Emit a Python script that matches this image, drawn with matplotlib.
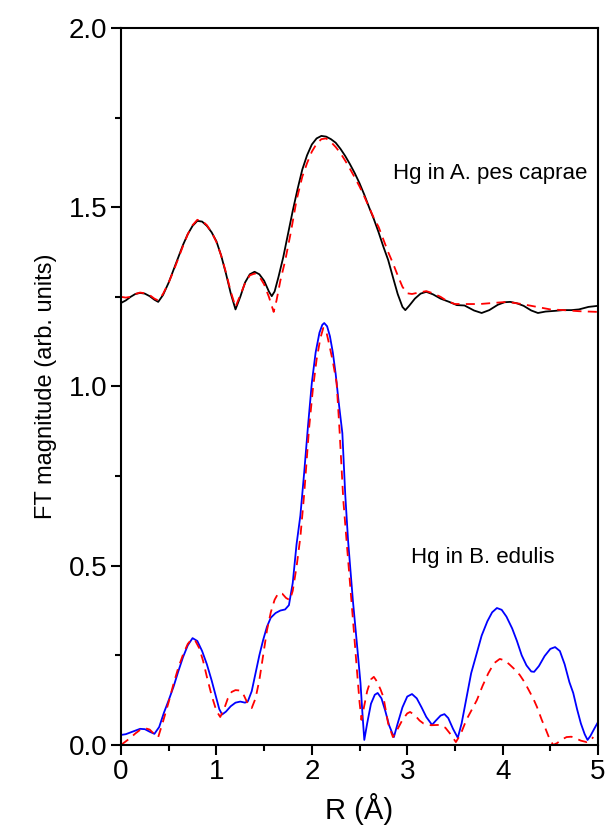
import matplotlib
matplotlib.use("Agg")
import matplotlib.pyplot as plt
from matplotlib.ticker import MultipleLocator

plt.rcParams['font.family'] = ['Liberation Sans', 'DejaVu Sans']

# A. pes caprae (experimental, black) -- offset curve
r_ap = [0, 0.05, 0.1, 0.15, 0.2, 0.25, 0.3, 0.35, 0.39, 0.44,
        0.5, 0.55, 0.6, 0.65, 0.7, 0.75, 0.8, 0.85, 0.9, 0.95,
        1.0, 1.05, 1.1, 1.15, 1.2, 1.25, 1.3, 1.35, 1.4, 1.45,
        1.5, 1.55, 1.58, 1.61, 1.65, 1.70, 1.75, 1.80, 1.85, 1.9,
        1.95, 2.0, 2.05, 2.1, 2.15, 2.2, 2.25, 2.3, 2.35, 2.4,
        2.45, 2.5, 2.55, 2.6, 2.65, 2.7, 2.75, 2.8, 2.85, 2.9,
        2.95, 2.98, 3.02, 3.08, 3.14, 3.2, 3.27, 3.35, 3.44, 3.52,
        3.6, 3.7, 3.78, 3.86, 3.95, 4.02, 4.08, 4.15, 4.22, 4.3,
        4.37, 4.45, 4.55, 4.63, 4.72, 4.8, 4.9, 5.0]
ft_ap = [1.233, 1.240, 1.25, 1.258, 1.261, 1.259, 1.252, 1.242, 1.236, 1.255,
         1.29, 1.325, 1.36, 1.395, 1.425, 1.448, 1.462, 1.46, 1.448, 1.43,
         1.405, 1.365, 1.315, 1.26, 1.215, 1.25, 1.29, 1.313, 1.32, 1.313,
         1.295, 1.265, 1.252, 1.265, 1.305, 1.36, 1.425, 1.49, 1.55, 1.605,
         1.645, 1.675, 1.692, 1.699, 1.697, 1.69, 1.68, 1.663, 1.643, 1.62,
         1.595, 1.567, 1.535, 1.5, 1.467, 1.43, 1.39, 1.353, 1.305, 1.258,
         1.222, 1.213, 1.225, 1.245, 1.259, 1.264, 1.257, 1.245, 1.236, 1.227,
         1.226, 1.212, 1.205, 1.213, 1.228, 1.235, 1.236, 1.232, 1.225, 1.212,
         1.205, 1.209, 1.211, 1.213, 1.213, 1.215, 1.222, 1.225]

# A. pes caprae fit (red dashed)
r_apf = [0, 0.05, 0.1, 0.15, 0.2, 0.25, 0.3, 0.35, 0.39, 0.44,
         0.5, 0.55, 0.6, 0.65, 0.7, 0.75, 0.8, 0.85, 0.9, 0.95,
         1.0, 1.05, 1.1, 1.15, 1.2, 1.25, 1.3, 1.35, 1.4, 1.45,
         1.5, 1.55, 1.6, 1.63, 1.67, 1.72, 1.78, 1.84, 1.9, 1.95,
         2.0, 2.05, 2.1, 2.15, 2.2, 2.25, 2.3, 2.35, 2.4, 2.45,
         2.5, 2.55, 2.6, 2.65, 2.7, 2.75, 2.8, 2.85, 2.9, 2.95,
         3.0, 3.05, 3.12, 3.2, 3.27, 3.35, 3.42, 3.5, 3.62, 3.76,
         3.9, 4.05, 4.2, 4.36, 4.5, 4.64, 4.8, 5.0]
ft_apf = [1.25, 1.248, 1.25, 1.258, 1.262, 1.26, 1.255, 1.245, 1.24, 1.258,
          1.29, 1.322, 1.357, 1.392, 1.425, 1.45, 1.465, 1.462, 1.45, 1.43,
          1.403, 1.365, 1.318, 1.265, 1.222, 1.255, 1.288, 1.31, 1.315, 1.307,
          1.285, 1.25, 1.208, 1.24, 1.295, 1.35, 1.43, 1.52, 1.585, 1.623,
          1.655, 1.677, 1.69, 1.692, 1.682, 1.668, 1.651, 1.63, 1.607, 1.583,
          1.558, 1.53, 1.5, 1.47, 1.445, 1.41, 1.375, 1.344, 1.31, 1.278,
          1.26, 1.258, 1.262, 1.266, 1.26, 1.25, 1.238, 1.23, 1.23, 1.23,
          1.233, 1.236, 1.23, 1.222, 1.215, 1.213, 1.21, 1.208]

# B. edulis (experimental, blue)
r_be = [0, 0.05, 0.1, 0.15, 0.2, 0.25, 0.3, 0.35, 0.4, 0.45,
        0.5, 0.55, 0.6, 0.65, 0.7, 0.75, 0.8, 0.85, 0.9, 0.95,
        1.0, 1.03, 1.06, 1.1, 1.15, 1.2, 1.25, 1.3, 1.33, 1.37,
        1.41, 1.45, 1.49, 1.53, 1.57, 1.62, 1.67, 1.72, 1.76, 1.80,
        1.84, 1.88, 1.92, 1.96, 2.0, 2.04, 2.08, 2.11, 2.13, 2.16,
        2.19, 2.22, 2.25, 2.28, 2.32, 2.35, 2.38, 2.43, 2.47, 2.51,
        2.53, 2.55, 2.58, 2.62, 2.66, 2.69, 2.73, 2.77, 2.81, 2.86,
        2.9, 2.95, 3.0, 3.05, 3.1, 3.15, 3.2, 3.26, 3.3, 3.35,
        3.39, 3.43, 3.48, 3.53, 3.57, 3.62, 3.67, 3.73, 3.78, 3.84,
        3.89, 3.94, 3.99, 4.04, 4.1, 4.15, 4.2, 4.25, 4.3, 4.33,
        4.38, 4.44, 4.5, 4.55, 4.6, 4.65, 4.7, 4.74, 4.78, 4.82,
        4.86, 4.89, 4.92, 4.96, 5.0]
ft_be = [0.028, 0.03, 0.035, 0.04, 0.045, 0.044, 0.037, 0.031, 0.05, 0.09,
         0.125, 0.162, 0.205, 0.245, 0.278, 0.298, 0.29, 0.262, 0.225, 0.18,
         0.13, 0.10, 0.085, 0.093, 0.108, 0.118, 0.121, 0.118, 0.122, 0.15,
         0.20, 0.25, 0.293, 0.33, 0.355, 0.368, 0.375, 0.378, 0.39, 0.452,
         0.56, 0.64, 0.76, 0.89, 1.01, 1.095, 1.15, 1.172, 1.177, 1.168,
         1.14, 1.095, 1.035, 0.96, 0.87, 0.70, 0.57, 0.404, 0.29, 0.173,
         0.09, 0.014, 0.06, 0.115, 0.14, 0.145, 0.13, 0.095, 0.055, 0.022,
         0.06, 0.105, 0.135, 0.142, 0.13, 0.105, 0.078, 0.056, 0.068, 0.082,
         0.086, 0.075, 0.045, 0.02, 0.06, 0.13, 0.20, 0.257, 0.305, 0.345,
         0.37, 0.382, 0.377, 0.358, 0.325, 0.29, 0.25, 0.222, 0.205, 0.204,
         0.22, 0.248, 0.268, 0.273, 0.262, 0.225, 0.175, 0.145, 0.10, 0.06,
         0.03, 0.014, 0.025, 0.045, 0.064]

# B. edulis fit (red dashed)
r_bef = [0, 0.05, 0.1, 0.15, 0.2, 0.25, 0.3, 0.35, 0.39, 0.44,
         0.5, 0.55, 0.6, 0.65, 0.7, 0.74, 0.78, 0.82, 0.86, 0.9,
         0.95, 1.0, 1.04, 1.08, 1.12, 1.16, 1.2, 1.24, 1.28, 1.32,
         1.37, 1.41, 1.45, 1.49, 1.53, 1.57, 1.61, 1.65, 1.69, 1.73,
         1.77, 1.8, 1.84, 1.88, 1.92, 1.97, 2.01, 2.05, 2.09, 2.12,
         2.15, 2.18, 2.22, 2.26, 2.29, 2.33, 2.37, 2.40, 2.44, 2.47,
         2.5, 2.52, 2.55, 2.58, 2.62, 2.65, 2.68, 2.72, 2.75, 2.8,
         2.85, 2.9, 2.95, 3.0, 3.03, 3.08, 3.13, 3.17, 3.25, 3.34,
         3.4, 3.46, 3.51, 3.56, 3.62, 3.68, 3.73, 3.79, 3.85, 3.91,
         3.97, 4.02, 4.07, 4.13, 4.18, 4.23, 4.27, 4.32, 4.36, 4.41,
         4.45, 4.49, 4.53, 4.57, 4.62, 4.67, 4.72, 4.77, 4.82, 4.88,
         4.92, 4.95]
ft_bef = [0.0, 0.01, 0.02, 0.032, 0.042, 0.047, 0.043, 0.03, 0.022, 0.065,
          0.12, 0.17, 0.215, 0.252, 0.282, 0.295, 0.29, 0.27, 0.235, 0.19,
          0.138, 0.095, 0.078, 0.10, 0.13, 0.148, 0.153, 0.152, 0.143, 0.12,
          0.103, 0.13, 0.181, 0.25, 0.32, 0.37, 0.405, 0.424, 0.422, 0.41,
          0.404, 0.43, 0.497, 0.58, 0.70, 0.88, 0.99, 1.075, 1.135, 1.163,
          1.155, 1.12, 1.07, 1.01, 0.88, 0.683, 0.55, 0.452, 0.32, 0.218,
          0.12, 0.07, 0.11, 0.15, 0.183, 0.19, 0.178, 0.155, 0.134, 0.06,
          0.022, 0.045, 0.07, 0.088, 0.092, 0.083, 0.068, 0.06, 0.055, 0.056,
          0.048, 0.028, 0.008, 0.03, 0.07, 0.10, 0.125, 0.165, 0.20, 0.228,
          0.24, 0.236, 0.225, 0.21, 0.195, 0.175, 0.155, 0.13, 0.106, 0.07,
          0.045, 0.018, 0.0, 0.005, 0.015, 0.022, 0.023, 0.018, 0.012, 0.008,
          0.012, 0.022]

label_ap = "Hg in A. pes caprae"
label_be = "Hg in B. edulis"

fig = plt.figure(figsize=(6.09, 8.36), dpi=100)
ax = fig.add_axes([0.1987, 0.1089, 0.7833, 0.8576])

ax.plot(r_ap, ft_ap, color='black', lw=1.3)
ax.plot(r_apf, ft_apf, color='red', lw=1.3, ls=(0, (5, 3.5)))
ax.plot(r_be, ft_be, color='blue', lw=1.3)
ax.plot(r_bef, ft_bef, color='red', lw=1.3, ls=(0, (5, 3.5)))

ax.set_xlim(0, 5)
ax.set_ylim(0, 2.0)
ax.xaxis.set_major_locator(MultipleLocator(1))
ax.xaxis.set_minor_locator(MultipleLocator(0.5))
ax.yaxis.set_major_locator(MultipleLocator(0.5))
ax.yaxis.set_minor_locator(MultipleLocator(0.25))
ax.yaxis.set_major_formatter(plt.FuncFormatter(lambda v, p: f"{v:.1f}"))
ax.tick_params(which='major', direction='out', length=7, width=1.5, labelsize=20, pad=3)
ax.tick_params(which='minor', direction='out', length=4, width=1.5)
ax.tick_params(top=False, right=False)
for s in ax.spines.values():
    s.set_linewidth(1.5)

ax.set_xlabel("R (Å)", fontsize=21, labelpad=6)
ax.set_ylabel("FT magnitude (arb. units)", fontsize=17, labelpad=8)

ax.text(2.85, 1.595, label_ap, fontsize=16, va='center', ha='left')
ax.text(3.04, 0.523, label_be, fontsize=16, va='center', ha='left')

fig.savefig("out.png", dpi=100)
